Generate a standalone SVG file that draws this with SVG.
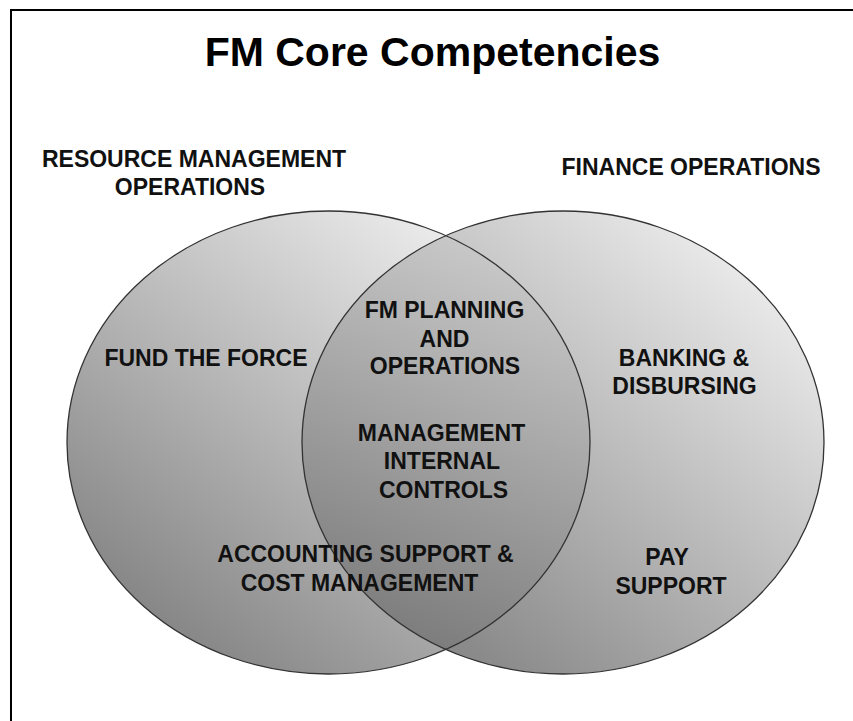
<svg xmlns="http://www.w3.org/2000/svg" width="853" height="721" viewBox="0 0 853 721">
<style>
.lbl{font-family:"Liberation Sans",Arial,sans-serif;font-weight:bold;font-size:23px;fill:#111;text-anchor:middle}
.title{font-family:"Liberation Sans",Arial,sans-serif;font-weight:bold;font-size:41px;fill:#000;text-anchor:middle}
.outline{fill:none;stroke:#333;stroke-width:1.3}
</style>
<defs>
<linearGradient id="gL" gradientUnits="userSpaceOnUse" x1="500" y1="220" x2="170" y2="640">
<stop offset="0" stop-color="#f4f4f4"/>
<stop offset="1" stop-color="#858585"/>
</linearGradient>
<linearGradient id="gR" gradientUnits="userSpaceOnUse" x1="800" y1="260" x2="470" y2="650">
<stop offset="0" stop-color="#f2f2f2"/>
<stop offset="1" stop-color="#8a8a8a"/>
</linearGradient>
<linearGradient id="gO" gradientUnits="userSpaceOnUse" x1="540" y1="260" x2="380" y2="640">
<stop offset="0" stop-color="#cacaca"/>
<stop offset="1" stop-color="#7a7a7a"/>
</linearGradient>
<clipPath id="clipL">
<ellipse cx="328.5" cy="442.5" rx="261.5" ry="231.5"/>
</clipPath>
</defs>
<rect x="11" y="10" width="900" height="800" fill="#fff" stroke="#000" stroke-width="2"/>
<text class="title" x="432.5" y="66">FM Core Competencies</text>
<g id="resource-management">
<ellipse cx="328.5" cy="442.5" rx="261.5" ry="231.5" fill="url(#gL)"/>
</g>
<g id="finance-operations">
<ellipse cx="563" cy="442.5" rx="261" ry="231.5" fill="url(#gR)"/>
</g>
<g id="overlap">
<ellipse cx="563" cy="442.5" rx="261" ry="231.5" fill="url(#gO)" clip-path="url(#clipL)"/>
</g>
<g id="outlines">
<ellipse class="outline" cx="328.5" cy="442.5" rx="261.5" ry="231.5"/>
<ellipse class="outline" cx="563" cy="442.5" rx="261" ry="231.5"/>
</g>
<g id="labels">
<text class="lbl" x="194" y="167">RESOURCE MANAGEMENT</text>
<text class="lbl" x="190" y="195">OPERATIONS</text>
<text class="lbl" x="691" y="175">FINANCE OPERATIONS</text>
<text class="lbl" x="206" y="366">FUND THE FORCE</text>
<text class="lbl" x="444.5" y="318">FM PLANNING</text>
<text class="lbl" x="444.5" y="346.5">AND</text>
<text class="lbl" x="445" y="374">OPERATIONS</text>
<text class="lbl" x="441.5" y="441">MANAGEMENT</text>
<text class="lbl" x="442" y="469">INTERNAL</text>
<text class="lbl" x="443.5" y="498">CONTROLS</text>
<text class="lbl" x="684" y="366">BANKING &amp;</text>
<text class="lbl" x="684.5" y="394">DISBURSING</text>
<text class="lbl" x="365.5" y="562">ACCOUNTING SUPPORT &amp;</text>
<text class="lbl" x="359.5" y="591">COST MANAGEMENT</text>
<text class="lbl" x="667" y="565">PAY</text>
<text class="lbl" x="671" y="594">SUPPORT</text>
</g>
</svg>
